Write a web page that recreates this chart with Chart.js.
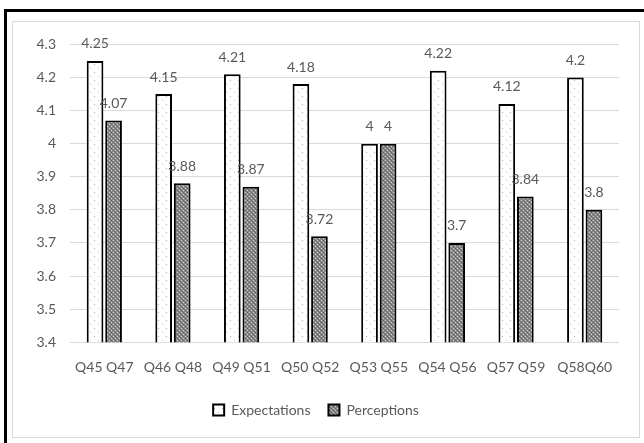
<!DOCTYPE html>
<html>
<head>
<meta charset="utf-8">
<script src="https://cdn.jsdelivr.net/npm/chart.js@4.4.1/dist/chart.umd.min.js"></script>
<style>
  html, body { margin: 0; padding: 0; background: #fff; }
  body { width: 644px; height: 443px; position: relative; overflow: hidden; }
  #frame { position: absolute; left: 4px; top: 9px; width: 700px; height: 500px;
           border-left: 3px solid #000; border-top: 3px solid #000; }
  #box { position: absolute; left: 12px; top: 21px; width: 626px; height: 415px;
         border: 1px solid #d9d9d9; background: #fff; }
  #box canvas { display: block; }
</style>
</head>
<body>
<div id="frame"></div>
<div id="box"><canvas id="c" width="626" height="415"></canvas></div>
<script>
const categories = ['Q45 Q47', 'Q46 Q48', 'Q49 Q51', 'Q50 Q52', 'Q53 Q55', 'Q54 Q56', 'Q57 Q59', 'Q58Q60'];
const expectations = [4.25, 4.15, 4.21, 4.18, 4, 4.22, 4.12, 4.2];
const perceptions  = [4.07, 3.88, 3.87, 3.72, 4, 3.7, 3.84, 3.8];
const yTicks = [3.4, 3.5, 3.6, 3.7, 3.8, 3.9, 4, 4.1, 4.2, 4.3];

const FONT = 'Lato';
const TEXT = '#595959';

// dotted fill for the Expectations bars
function dotPattern() {
  const t = document.createElement('canvas');
  t.width = 8; t.height = 8;
  const g = t.getContext('2d');
  g.fillStyle = '#ffffff'; g.fillRect(0, 0, 8, 8);
  g.fillStyle = '#8fb4de'; g.fillRect(1, 2, 1, 1);
  g.fillStyle = '#b8d0ec'; g.fillRect(5, 6, 1, 1);
  return g.createPattern(t, 'repeat');
}

// dense checker fill for the Perceptions bars
function checkPattern() {
  const t = document.createElement('canvas');
  t.width = 4; t.height = 4;
  const g = t.getContext('2d');
  g.fillStyle = '#8c8c8c'; g.fillRect(0, 0, 4, 4);
  g.fillStyle = '#5a5a5a';
  g.fillRect(0, 0, 1, 1); g.fillRect(2, 2, 1, 1);
  g.fillStyle = '#d0d0d0';
  g.fillRect(2, 0, 1, 1); g.fillRect(0, 2, 1, 1);
  g.fillStyle = '#707070';
  g.fillRect(1, 1, 1, 1); g.fillRect(3, 3, 1, 1);
  return g.createPattern(t, 'repeat');
}

const valueLabels = {
  id: 'valueLabels',
  afterDatasetsDraw(chart) {
    const ctx = chart.ctx;
    ctx.save();
    ctx.font = '14px ' + FONT;
    ctx.fillStyle = TEXT;
    ctx.textAlign = 'center';
    ctx.textBaseline = 'middle';
    chart.data.datasets.forEach((ds, i) => {
      chart.getDatasetMeta(i).data.forEach((bar, j) => {
        ctx.fillText(String(ds.data[j]), bar.x, bar.y - 17);
      });
    });
    ctx.restore();
  }
};

new Chart(document.getElementById('c'), {
  type: 'bar',
  data: {
    labels: categories,
    datasets: [
      { label: 'Expectations', data: expectations, backgroundColor: dotPattern(),
        borderColor: '#000', borderWidth: 2, borderSkipped: false },
      { label: 'Perceptions', data: perceptions, backgroundColor: checkPattern(),
        borderColor: '#000', borderWidth: 2, borderSkipped: false }
    ]
  },
  options: {
    responsive: false,
    animation: false,
    devicePixelRatio: 1,
    datasets: { bar: { categoryPercentage: 0.54, barPercentage: 0.9 } },
    layout: { padding: { top: 9, right: 20, left: 0, bottom: 10 } },
    scales: {
      x: {
        grid: { display: false },
        border: { display: false },
        ticks: { color: TEXT, font: { family: FONT, size: 14 }, padding: 9, maxRotation: 0, autoSkip: false }
      },
      y: {
        min: 3.4, max: 4.3,
        afterBuildTicks(scale) { scale.ticks = yTicks.map(v => ({ value: v })); },
        afterFit(scale) { scale.width = 57; },
        grid: { color: '#d9d9d9', lineWidth: 1, drawTicks: false },
        border: { display: false },
        ticks: { color: TEXT, font: { family: FONT, size: 14 }, padding: 14,
                 callback: v => String(Math.round(v * 10) / 10) }
      }
    },
    plugins: {
      tooltip: { enabled: false },
      legend: {
        position: 'bottom',
        labels: { color: TEXT, font: { family: FONT, size: 14 }, boxWidth: 11, boxHeight: 11, padding: 18 }
      }
    }
  },
  plugins: [valueLabels]
});
</script>
</body>
</html>
